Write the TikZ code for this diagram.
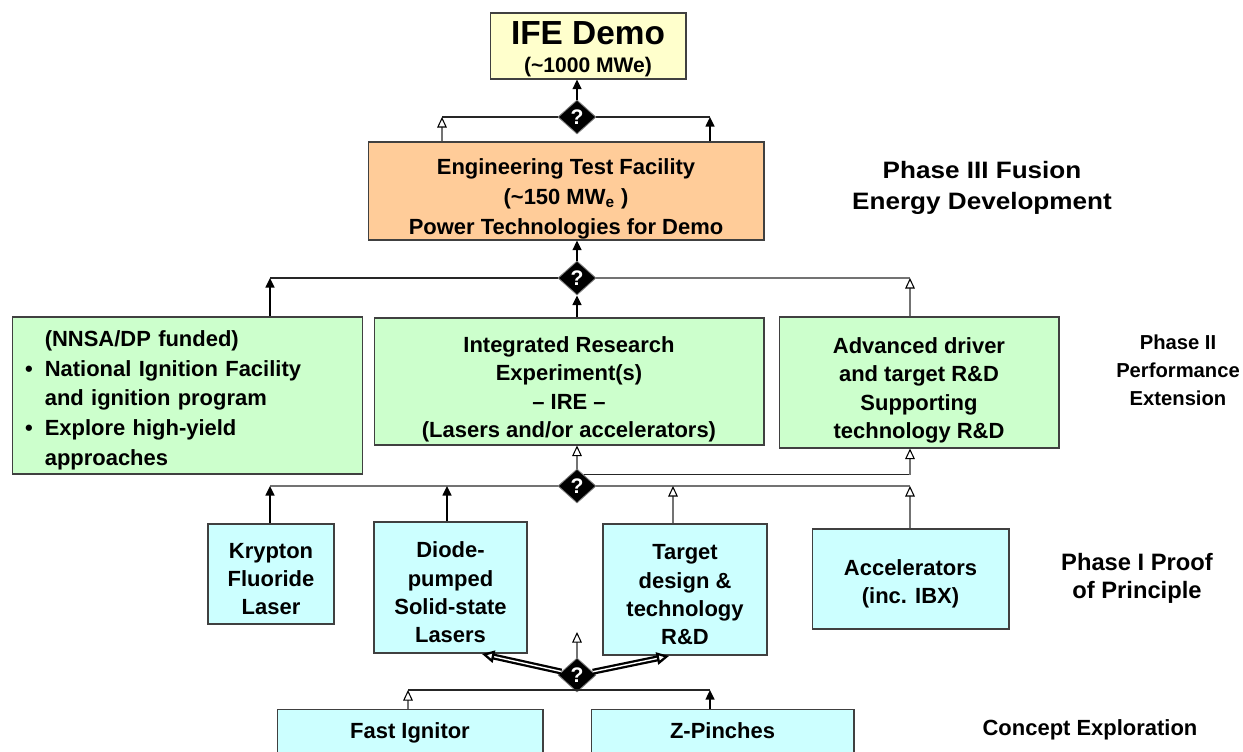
\documentclass[tikz,border=0pt]{standalone}
\usepackage{fontspec}
\setmainfont{Liberation Sans}
\newfontfamily\widesans[FakeStretch=1.1]{Liberation Sans}
\usetikzlibrary{shapes.geometric,arrows.meta,positioning}
\tikzset{>=Latex}

\definecolor{demoyellow}{RGB}{255,255,204}
\definecolor{etforange}{RGB}{255,204,153}
\definecolor{phasegreen}{RGB}{204,255,204}
\definecolor{conceptcyan}{RGB}{204,255,255}

\newcommand{\bul}{\makebox[0.9em][l]{\textbullet}}
\newcommand{\ind}{\hspace*{0.9em}}
\newcommand{\padbig}{\rule{0pt}{18pt}}
\newcommand{\padsmall}{\rule{0pt}{14.5pt}}

\begin{document}
\begin{tikzpicture}[x=0.02cm, y=0.02cm,
boxnode/.style={rectangle, align=center, draw=black!75, line width=0.6pt, inner sep=0pt, font=\fontsize{12.5}{16}\selectfont\bfseries},
phaselabel/.style={align=center, font=\fontsize{13}{16}\selectfont\bfseries},
qnode/.style={diamond, fill=black, draw=black!50, line width=0.5pt, minimum width=0.76cm, minimum height=0.68cm, inner sep=0pt, text=white, font=\fontsize{12}{12}\selectfont\bfseries},
arrowline/.style={line width=1.2pt, -{Triangle[length=5.5pt,width=5pt]}},
hollowline/.style={line width=1.3pt, draw=black!55, -{Triangle[length=6pt,width=5.5pt,color=black,fill=white,line width=0.6pt]}},
fatarrow/.style={draw=black, double=white, double distance=0.8pt, line width=1.3pt, -{Triangle[length=7pt,width=7pt,fill=white]}},
joinline/.style={line width=0.6pt, black!85},
grayline/.style={line width=0.7pt, black!55},
]
\useasboundingbox (0,0) rectangle (1243,-751);

%Nodes
\node[boxnode, fill=demoyellow, minimum width=3.92cm, minimum height=1.32cm](demo) at (588,-46)
  {\fontsize{19}{22}\selectfont\rule{0pt}{17pt}IFE Demo\\\fontsize{12}{13}\selectfont(\textasciitilde1000 MWe)};
\node[boxnode, fill=etforange, minimum width=7.92cm, minimum height=1.96cm, font=\fontsize{12.5}{17}\selectfont\bfseries](etf) at (566,-191)
  {\padbig Engineering Test Facility\\(\textasciitilde150 MW\textsubscript{e} )\\Power Technologies for Demo};
\node[phaselabel, font=\fontsize{13.5}{17.5}\selectfont\bfseries\widesans](phase3) at (982,-188){Phase III Fusion\\Energy Development};

\node[boxnode, fill=phasegreen, minimum width=7.02cm, minimum height=3.14cm, align=left, text width=6.5cm, inner xsep=0.26cm, font=\fontsize{12.5}{17}\selectfont\bfseries](nnsa) at (187.5,-395.5)
  {\padsmall\ind(NNSA/DP funded)\\\bul National Ignition Facility\\\ind and ignition program\\\bul Explore high-yield\\\ind approaches};
\node[boxnode, fill=phasegreen, minimum width=7.8cm, minimum height=2.54cm](ire) at (569,-381.5)
  {\padbig Integrated Research\\Experiment(s)\\– IRE –\\(Lasers and/or accelerators)};
\node[boxnode, fill=phasegreen, minimum width=5.6cm, minimum height=2.62cm](adv) at (919,-382.5)
  {\padbig Advanced driver\\and target R\&D\\Supporting\\technology R\&D};
\node[phaselabel, font=\fontsize{11.5}{16}\selectfont\bfseries](phase2) at (1178,-370){Phase II\\Performance\\Extension};

\node[boxnode, fill=conceptcyan, minimum width=2.52cm, minimum height=2cm](krf) at (271,-574)
  {\padsmall Krypton\\Fluoride\\Laser};
\node[boxnode, fill=conceptcyan, minimum width=3.06cm, minimum height=2.62cm](dpssl) at (450.5,-587.5)
  {\padsmall Diode-\\pumped\\Solid-state\\Lasers};
\node[boxnode, fill=conceptcyan, minimum width=3.28cm, minimum height=2.62cm](target) at (685,-589.5)
  {\padsmall Target\\design \&\\technology\\R\&D};
\node[boxnode, fill=conceptcyan, minimum width=3.94cm, minimum height=2cm](accel) at (910.5,-579)
  {\padsmall Accelerators\\(inc. IBX)};
\node[phaselabel, font=\fontsize{13.5}{16}\selectfont\bfseries](phase1) at (1137,-578){Phase I Proof\\of Principle};

\node[boxnode, fill=conceptcyan, minimum width=5.32cm, anchor=north, inner ysep=0.27cm](fast) at (410,-709)
  {Fast Ignitor};
\node[boxnode, fill=conceptcyan, minimum width=5.26cm, anchor=north, inner ysep=0.27cm](zpinch) at (722.5,-709)
  {Z-Pinches};
\node[phaselabel, font=\fontsize{12.5}{16}\selectfont\bfseries](concept) at (1090,-730){Concept Exploration};

\node[qnode](q1) at (577,-117){?};
\node[qnode](q2) at (577,-278){?};
\node[qnode](q3) at (577,-486){?};
\node[qnode](q4) at (577,-675){?};

%Junctions
\coordinate (j1l) at (442,-117);
\coordinate (j1r) at (710,-117);
\coordinate (j2l) at (270,-278);
\coordinate (j2r) at (910,-278);
\coordinate (j3l) at (270,-486);
\coordinate (j3a) at (447,-486);
\coordinate (j3b) at (673,-486);
\coordinate (j3r) at (910,-486);
\coordinate (j3u) at (910,0);
\coordinate (j4l) at (408,-690);
\coordinate (j4r) at (710,-690);
\coordinate (j4up) at (577,-632);
\coordinate (dpin) at (482,-654);
\coordinate (tgin) at (669,-656);

%Lines
\draw[joinline] (j1l) -- (q1);
\draw[joinline] (q1) -- (j1r);
\draw[hollowline] (etf.north -| j1l) -- (j1l);
\draw[arrowline] (etf.north -| j1r) -- (j1r);
\draw[arrowline] (q1) -- (q1 |- demo.south);

\draw[joinline] (j2l) -- (q2);
\draw[grayline] (q2) -- (j2r);
\draw[arrowline] (nnsa.north -| j2l) -- (j2l);
\draw[hollowline] (adv.north -| j2r) -- (j2r);
\draw[arrowline] (q2) -- (q2 |- etf.south);
\draw[arrowline] (q2 |- ire.north) -- (q2);

\draw[grayline] (j3l) -- (q3);
\draw[grayline] (q3) -- (j3r);
\draw[joinline] (q3.60) -- (q3.60 -| j3u);
\draw[hollowline] (q3.60 -| j3u) -- (j3u |- adv.south);
\draw[hollowline] (q3) -- (q3 |- ire.south);
\draw[arrowline] (krf.north -| j3l) -- (j3l);
\draw[arrowline] (dpssl.north -| j3a) -- (j3a);
\draw[hollowline] (target.north -| j3b) -- (j3b);
\draw[hollowline] (accel.north -| j3r) -- (j3r);

\draw[joinline] (j4l) -- (j4r);
\draw[hollowline] (fast.north -| j4l) -- (j4l);
\draw[arrowline] (zpinch.north -| j4r) -- (j4r);
\draw[hollowline] (q4) -- (j4up);
\draw[fatarrow] (q4) -- (dpin);
\draw[fatarrow] (q4) -- (tgin);
\end{tikzpicture}
\end{document}
